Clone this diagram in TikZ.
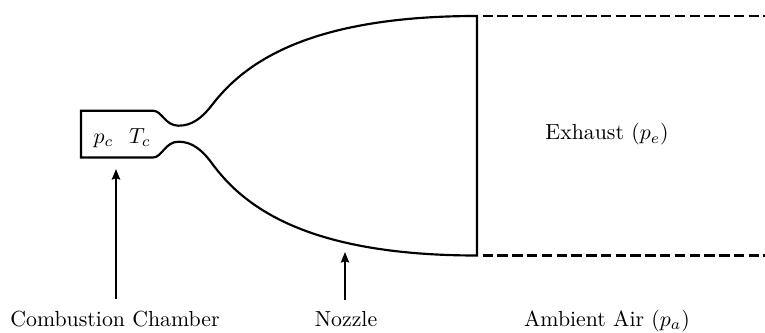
\documentclass[tikz,border=0pt]{standalone}
\usetikzlibrary{arrows.meta}
\tikzset{
  wall/.style={line width=0.95pt,line join=miter},
  freeb/.style={line width=1pt,dash pattern=on 4.6pt off 1.9pt},
  pointer/.style={line width=1pt,-{Stealth[length=4.6pt,width=3.6pt,inset=0.6pt]}},
  lab/.style={inner sep=0pt,anchor=base,scale=0.96}
}
\begin{document}
\begin{tikzpicture}[x=0.44pt,y=-0.44pt]
\useasboundingbox (0,0) rectangle (765,333);
\coordinate (exitT) at (477,16);
\coordinate (exitB) at (477,255.5);
\coordinate (dashT) at (482.7,16);
\coordinate (dashB) at (482.7,255.5);
\coordinate (endT) at (765,16);
\coordinate (endB) at (765,255.5);
\coordinate (tailC) at (116,299);
\coordinate (tailN) at (345,300);
\coordinate (tipC) at (116,169);
\coordinate (tipN) at (345,252);
\node[lab] (pc) at (103.5,143.5) {$p_c$};
\node[lab] (Tc) at (140,143.5) {$T_c$};
\node[lab] (ex) at (607,140) {Exhaust ($p_e$)};
\node[lab] (cc) at (115,326) {Combustion Chamber};
\node[lab] (nz) at (346,326) {Nozzle};
\node[lab] (am) at (607,326) {Ambient Air ($p_a$)};
\draw[wall] (153,157.5) -- (81,157.5) -- (81,110.7) -- (153,110.7)
  .. controls (162,110.7) and (165,125.7) .. (178.5,125.7)
  .. controls (192,125.7) and (202,118) .. (212,105)
  .. controls (245,62) and (310,16) .. (exitT) -- (exitB)
  .. controls (310,255.5) and (245,208.6) .. (212,163.4)
  .. controls (202,149.8) and (192,141.7) .. (178.5,141.7)
  .. controls (165,141.7) and (162,157.5) .. (153,157.5) -- cycle;
\draw[freeb] (dashT) -- (endT);
\draw[freeb] (dashB) -- (endB);
\draw[pointer] (tailC) -- (tipC);
\draw[pointer] (tailN) -- (tipN);
\end{tikzpicture}
\end{document}
